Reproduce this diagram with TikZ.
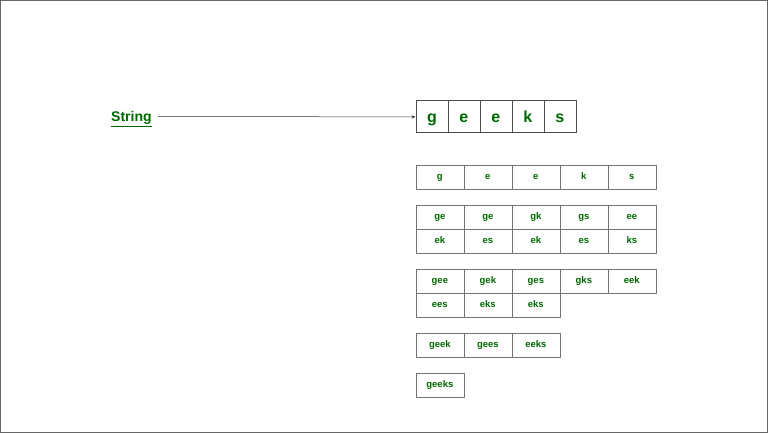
\documentclass[tikz,border=0pt]{standalone}
\usepackage{fontspec}
\setmainfont{Liberation Sans}
\usetikzlibrary{arrows.meta}
\definecolor{gfg}{RGB}{0,102,0}
\begin{document}
\begin{tikzpicture}[x=1pt,y=-1pt,
  big/.style={draw=black!70,line width=0.8pt,minimum width=32pt,minimum height=32pt,inner sep=0pt,text height=13pt,text depth=1pt,anchor=north west,font=\fontsize{16}{18}\selectfont\bfseries,text=gfg},
  cell/.style={draw=black!55,line width=0.7pt,minimum width=48pt,minimum height=24pt,inner sep=0pt,text height=7.5pt,text depth=1.5pt,anchor=north west,font=\fontsize{9.5}{11}\selectfont\bfseries,text=gfg}]
\draw[black!60,line width=1pt] (0.5,0.5) rectangle (767.5,432.5);
\node[font=\fontsize{14}{16}\selectfont\bfseries,text=gfg,anchor=base west,inner sep=0pt] (str) at (111,122) {\underline{String}};
\foreach \t [count=\i from 0] in {g,e,e,k,s} {
  \node[big] (b\i) at (415.5+32*\i,100.5) {\t};
}
\draw[-{Stealth[length=4pt,width=3pt]},black!80,line width=0.5pt] (158,116.5) -- (b0.west);
\foreach \t [count=\i from 0] in {g,e,e,k,s} { \node[cell] (r1c\i) at (415.5+48*\i,164.5) {\t}; }
\foreach \t [count=\i from 0] in {ge,ge,gk,gs,ee} { \node[cell] (r2c\i) at (415.5+48*\i,204.5) {\t}; }
\foreach \t [count=\i from 0] in {ek,es,ek,es,ks} { \node[cell] (r3c\i) at (415.5+48*\i,228.5) {\t}; }
\foreach \t [count=\i from 0] in {gee,gek,ges,gks,eek} { \node[cell] (r4c\i) at (415.5+48*\i,268.5) {\t}; }
\foreach \t [count=\i from 0] in {ees,eks,eks} { \node[cell] (r5c\i) at (415.5+48*\i,292.5) {\t}; }
\foreach \t [count=\i from 0] in {geek,gees,eeks} { \node[cell] (r6c\i) at (415.5+48*\i,332.5) {\t}; }
\node[cell] (r7c0) at (415.5,372.5) {geeks};
\end{tikzpicture}
\end{document}
